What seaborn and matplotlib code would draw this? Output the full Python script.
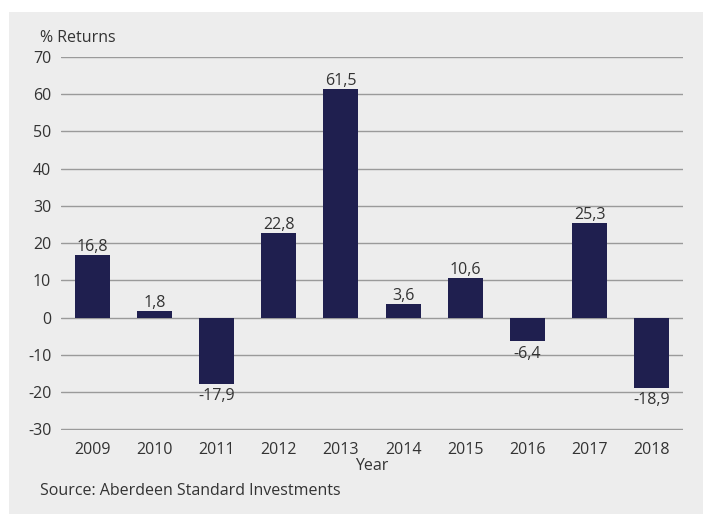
import pandas as pd
import seaborn as sns
import matplotlib.pyplot as plt
from matplotlib.patches import Rectangle

years = ['2009', '2010', '2011', '2012', '2013', '2014', '2015', '2016', '2017', '2018']
returns = [16.8, 1.8, -17.9, 22.8, 61.5, 3.6, 10.6, -6.4, 25.3, -18.9]
y_ticks = [-30, -20, -10, 0, 10, 20, 30, 40, 50, 60, 70]

bg = '#ededed'
bar_color = '#1f1f4f'
text_color = '#333333'
fs = 11.5

sns.set_theme(style='white')
plt.rcParams['font.family'] = ['Open Sans', 'DejaVu Sans']
plt.rcParams['axes.unicode_minus'] = False

df = pd.DataFrame({'Year': years, 'Returns': returns})

fig = plt.figure(figsize=(7.03, 5.15), dpi=100)
fig.patch.set_facecolor('white')
# light grey panel behind the chart
panel = Rectangle((9 / 703, 1 / 515), 1 - 9 / 703, 502 / 515,
                  transform=fig.transFigure, facecolor=bg,
                  edgecolor='none', zorder=-10)
fig.add_artist(panel)

ax = fig.add_axes([61 / 703, 85 / 515, 622 / 703, 373 / 515])
ax.set_facecolor(bg)
ax.set_zorder(1)

sns.barplot(data=df, x='Year', y='Returns', color=bar_color, width=0.56,
            saturation=1, linewidth=0, ax=ax, zorder=3)

ax.set_ylim(-30.2, 70)
ax.set_xlim(-0.5, 9.5)
ax.set_yticks(y_ticks)
ax.yaxis.grid(True, color='#9a9a9a', linewidth=1)
ax.set_axisbelow(True)
for s in ax.spines.values():
    s.set_visible(False)
ax.tick_params(axis='both', length=0, labelsize=fs, colors=text_color, pad=7)
ax.tick_params(axis='x', pad=9)

ax.set_ylabel('')
ax.set_xlabel('Year', fontsize=fs, color=text_color, labelpad=0)

for i, v in enumerate(returns):
    label = f'{v:.1f}'.replace('.', ',')
    if v >= 0:
        ax.annotate(label, (i, v), xytext=(0, 0), textcoords='offset points',
                    ha='center', va='bottom', fontsize=fs, color=text_color)
    else:
        ax.annotate(label, (i, v), xytext=(0, -3), textcoords='offset points',
                    ha='center', va='top', fontsize=fs, color=text_color)

fig.text(40 / 703, 1 - 38 / 515, '% Returns', ha='left', va='center',
         fontsize=fs, color=text_color)
fig.text(40 / 703, 1 - 491 / 515, 'Source: Aberdeen Standard Investments',
         ha='left', va='center', fontsize=fs, color=text_color)

fig.savefig('out.png', dpi=100, facecolor=fig.get_facecolor())
